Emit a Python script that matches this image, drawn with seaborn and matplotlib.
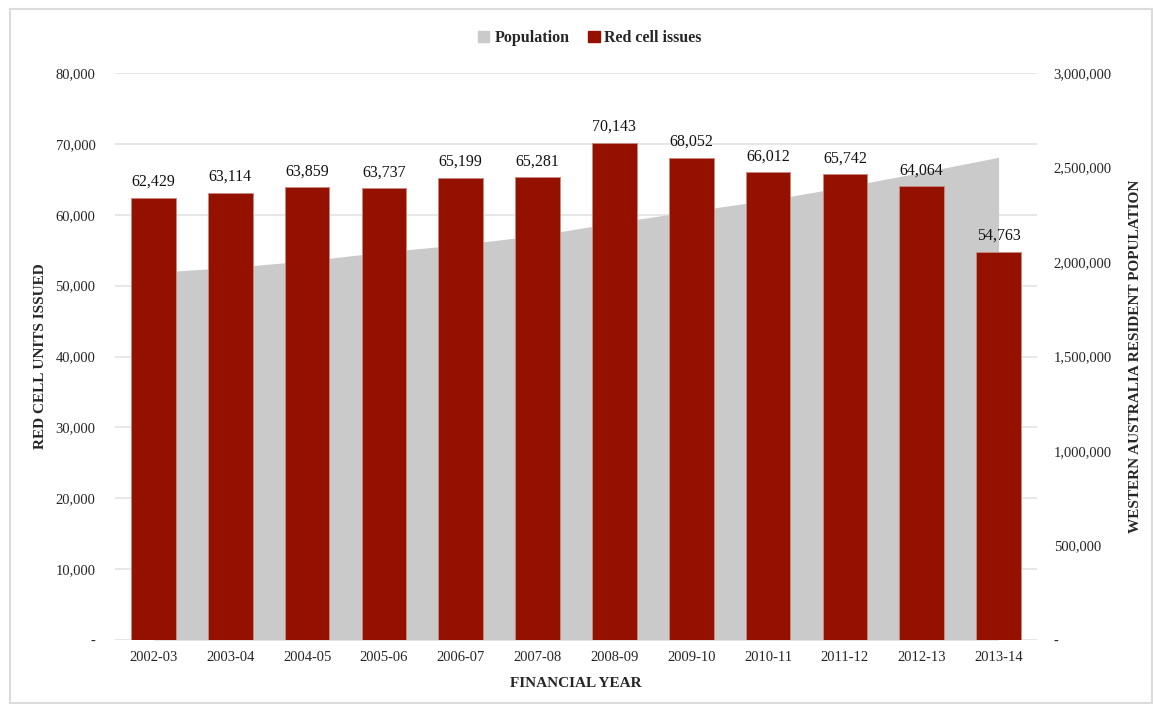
import matplotlib
matplotlib.use("Agg")
import matplotlib.pyplot as plt
import matplotlib.patches as mpatches
from matplotlib.ticker import FuncFormatter, FixedLocator
import seaborn as sns
import pandas as pd

years = ["2002-03", "2003-04", "2004-05", "2005-06", "2006-07", "2007-08",
         "2008-09", "2009-10", "2010-11", "2011-12", "2012-13", "2013-14"]
red_cells = [62429, 63114, 63859, 63737, 65199, 65281,
             70143, 68052, 66012, 65742, 64064, 54763]
population = [1945000, 1971000, 2006000, 2053000, 2092000, 2141000,
              2208000, 2269000, 2327000, 2398000, 2474000, 2554000]

left_ticks = [0, 10000, 20000, 30000, 40000, 50000, 60000, 70000, 80000]
right_ticks = [0, 500000, 1000000, 1500000, 2000000, 2500000, 3000000]

BAR_COLOR = "#941100"
AREA_COLOR = "#cacaca"
GRID_COLOR = "#e3e3e3"

sns.set_theme(style="white")
plt.rcParams["font.family"] = ["Liberation Serif", "DejaVu Serif"]

df = pd.DataFrame({"year": years, "red": red_cells, "pop": population})

fig = plt.figure(figsize=(11.53, 7.06), dpi=100)
fig.patches.append(mpatches.Rectangle((10 / 1153, 3 / 706), 1 - 11 / 1153, 1 - 12 / 706,
                                      transform=fig.transFigure, fill=False,
                                      edgecolor="#dcdcdc", linewidth=1.5))

ax = fig.add_axes([115 / 1153, 1 - 640 / 706, 922 / 1153, 567 / 706])
ax2 = ax.twinx()

# area (population) on secondary axis, behind bars
x_idx = list(range(len(years)))
ax2.fill_between(x_idx, 0, df["pop"], color=AREA_COLOR, linewidth=0, zorder=2)
ax2.set_ylim(0, 3000000)
for v in left_ticks:
    ax2.axhline(v * 3000000 / 80000, color=GRID_COLOR, linewidth=1.2, zorder=1)

# bars
sns.barplot(data=df, x="year", y="red", ax=ax, color=BAR_COLOR, width=0.58,
            saturation=1, edgecolor="#c98a80", linewidth=0.6, zorder=3)
ax.set_zorder(ax2.get_zorder() + 1)
ax.patch.set_visible(False)
ax.set_ylim(0, 80000)
ax.set_xlim(-0.5, len(years) - 0.5)

for i, v in enumerate(red_cells):
    ax.text(i, v + 1100, f"{v:,}", ha="center", va="bottom", fontsize=11.5, color="#111111")

fmt = FuncFormatter(lambda v, p: "-" if v == 0 else f"{int(v):,}")
ax.yaxis.set_major_locator(FixedLocator(left_ticks))
ax.yaxis.set_major_formatter(fmt)
ax2.yaxis.set_major_locator(FixedLocator(right_ticks))
ax2.yaxis.set_major_formatter(fmt)

for a in (ax, ax2):
    for s in a.spines.values():
        s.set_visible(False)
    a.grid(False)
ax.tick_params(axis="y", length=0, pad=14, labelsize=10.5)
ax2.tick_params(axis="y", length=0, pad=12, labelsize=10.5)
ax.tick_params(axis="x", length=0, pad=8, labelsize=10.5)

ax.set_xlabel("FINANCIAL YEAR", fontsize=11, fontweight="bold", labelpad=9)
ax.set_ylabel("RED CELL UNITS ISSUED", fontsize=11, fontweight="bold", labelpad=6)
ax2.set_ylabel("WESTERN AUSTRALIA RESIDENT POPULATION", fontsize=11, fontweight="bold",
               labelpad=12, rotation=90)

handles = [mpatches.Patch(color=AREA_COLOR, label="Population"),
           mpatches.Patch(color=BAR_COLOR, label="Red cell issues")]
fig.legend(handles=handles, loc="center", bbox_to_anchor=(590 / 1153, 1 - 38 / 706),
           ncol=2, frameon=False, prop={"weight": "bold", "size": 11.5},
           handlelength=0.7, handleheight=0.7, handletextpad=0.3, columnspacing=1.2)

fig.savefig("out.png", dpi=100)
